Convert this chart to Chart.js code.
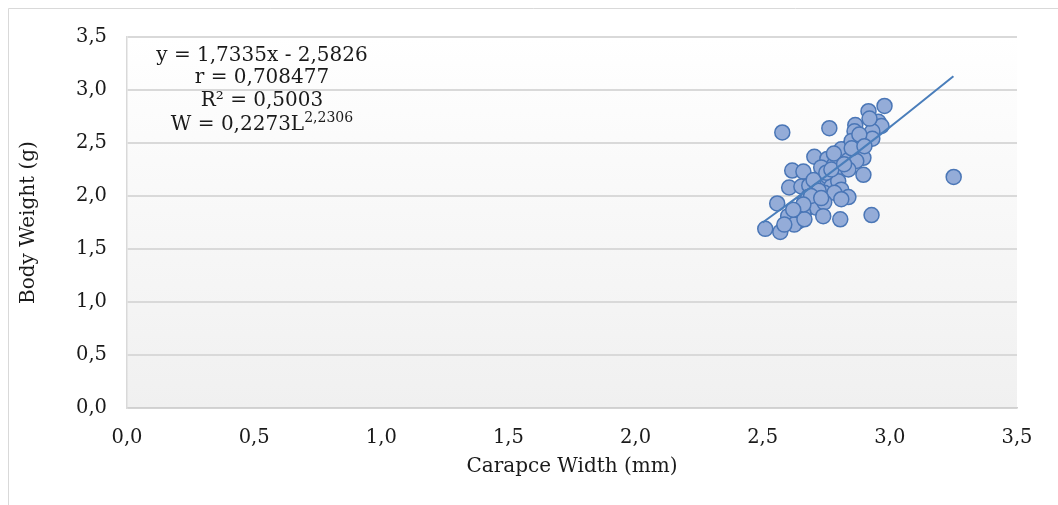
<!DOCTYPE html>
<html><head><meta charset="utf-8">
<script src="https://cdn.jsdelivr.net/npm/chart.js@4.4.1/dist/chart.umd.min.js"></script>
<style>html,body{margin:0;padding:0;background:#fff;}#wrap{width:1058px;height:505px;position:relative}</style>
</head><body><div id="wrap"><canvas id="c" width="1058" height="505"></canvas></div>
<script>
// Scatter data
const carapaceWidth = [2.577,2.762,2.979,2.916,2.864,2.935,2.955,2.967,2.931,2.861,2.896,2.931,2.837,2.809,2.868,2.896,2.703,2.754,2.616,2.660,2.730,2.782,2.809,2.837,2.868,2.896,3.251,2.604,2.652,2.683,2.719,2.758,2.770,2.797,2.809,2.837,2.711,2.742,2.782,2.837,2.809,2.557,2.664,2.679,2.679,2.711,2.742,2.738,2.805,2.928,2.620,2.660,2.600,2.640,2.624,2.664,2.510,2.569,2.585,2.70,2.75,2.78,2.85,2.88,2.92,2.72,2.69,2.77,2.82,2.66,2.62,2.85,2.90,2.73];
const bodyWeight    = [2.60,2.64,2.85,2.80,2.67,2.69,2.70,2.66,2.61,2.61,2.53,2.54,2.46,2.44,2.39,2.36,2.37,2.35,2.24,2.23,2.27,2.30,2.25,2.34,2.33,2.20,2.18,2.08,2.09,2.10,2.11,2.18,2.09,2.14,2.06,2.25,2.01,2.03,2.03,1.99,1.97,1.93,1.95,1.99,1.89,1.89,1.94,1.81,1.78,1.82,1.84,1.84,1.81,1.76,1.73,1.78,1.69,1.66,1.73,2.15,2.22,2.40,2.52,2.58,2.73,2.05,2.00,2.25,2.30,1.92,1.87,2.45,2.47,1.98];
// Trendline as drawn in the picture
const trendX = [2.50, 2.75, 3.00, 3.25];
const trendY = [1.75, 2.19, 2.65, 3.13];
const xTickValues = [0,0.5,1,1.5,2,2.5,3,3.5];
const yTickValues = [0,0.5,1,1.5,2,2.5,3,3.5];
const xTitle = "Carapce Width (mm)";
const yTitle = "Body Weight (g)";
const eqLines = ["y = 1,7335x - 2,5826", "r = 0,708477", "R\u00B2 = 0,5003"];
const powerBase = "W = 0,2273L";
const powerExp = "2,2306";

const FONT = "'DejaVu Serif', serif";
const fmt = v => v.toFixed(1).replace('.', ',');

const bgPlugin = {
  id: 'bg',
  beforeDraw(chart) {
    const {ctx, chartArea: a} = chart;
    ctx.save();
    ctx.fillStyle = '#fff';
    ctx.fillRect(0, 0, chart.width, chart.height);
    ctx.strokeStyle = '#d9d9d9';
    ctx.lineWidth = 1;
    ctx.beginPath();
    ctx.moveTo(8.5, chart.height); ctx.lineTo(8.5, 8.5); ctx.lineTo(chart.width, 8.5);
    ctx.stroke();
    const g = ctx.createLinearGradient(0, a.top, 0, a.bottom);
    g.addColorStop(0, '#ffffff');
    g.addColorStop(1, '#f0f0f0');
    ctx.fillStyle = g;
    ctx.fillRect(a.left, a.top, a.right - a.left, a.bottom - a.top);
    ctx.restore();
  }
};

const textPlugin = {
  id: 'texts',
  afterDraw(chart) {
    const {ctx, chartArea: a} = chart;
    ctx.save();
    ctx.fillStyle = '#1a1a1a';
    ctx.font = "20px " + FONT;
    ctx.textAlign = 'center';
    ctx.textBaseline = 'middle';
    ctx.fillText(xTitle, (a.left + a.right) / 2, 467);
    ctx.save();
    ctx.translate(29, (a.top + a.bottom) / 2);
    ctx.rotate(-Math.PI / 2);
    ctx.fillText(yTitle, 0, 0);
    ctx.restore();
    const cx = 262;
    const ys = [56, 78, 101, 125];
    ctx.font = "20px " + FONT;
    eqLines.forEach((t, i) => ctx.fillText(t, cx, ys[i]));
    ctx.textAlign = 'left';
    const wb = ctx.measureText(powerBase).width;
    ctx.font = "14px " + FONT;
    const we = ctx.measureText(powerExp).width;
    const x0 = cx - (wb + we) / 2;
    ctx.font = "20px " + FONT;
    ctx.fillText(powerBase, x0, ys[3]);
    ctx.font = "14px " + FONT;
    ctx.fillText(powerExp, x0 + wb, ys[3] - 7);
    ctx.restore();
  }
};

new Chart(document.getElementById('c'), {
  type: 'scatter',
  data: {
    datasets: [
      {
        type: 'line',
        data: trendX.map((x, i) => ({x, y: trendY[i]})),
        borderColor: '#4a7ebb',
        borderWidth: 2,
        pointRadius: 0,
        fill: false,
        cubicInterpolationMode: 'monotone',
        order: 0
      },
      {
        data: carapaceWidth.map((x, i) => ({x, y: bodyWeight[i]})),
        backgroundColor: '#94acd8',
        borderColor: '#4a76b6',
        borderWidth: 1.5,
        pointRadius: 7.5,
        pointHoverRadius: 7.5,
        order: 1
      }
    ]
  },
  options: {
    responsive: false,
    animation: false,
    devicePixelRatio: 1,
    layout: {padding: {left: 0, top: 37, right: 41, bottom: 0}},
    plugins: {legend: {display: false}, tooltip: {enabled: false}},
    scales: {
      x: {
        type: 'linear', min: 0, max: 3.5,
        afterBuildTicks: s => { s.ticks = xTickValues.map(v => ({value: v})); },
        afterFit: s => { s.height = 97; },
        grid: {display: false, drawTicks: false},
        border: {display: true, color: '#d0d0d0', width: 1.5},
        ticks: {color: '#1a1a1a', font: {family: FONT, size: 19.5}, padding: 18, callback: v => fmt(v), maxRotation: 0}
      },
      y: {
        type: 'linear', min: 0, max: 3.5,
        afterBuildTicks: s => { s.ticks = yTickValues.map(v => ({value: v})); },
        afterFit: s => { s.width = 127; },
        grid: {color: '#d9d9d9', lineWidth: 2, drawTicks: false},
        border: {display: true, color: '#d9d9d9', width: 1.5},
        ticks: {color: '#1a1a1a', font: {family: FONT, size: 19.5}, padding: 20, callback: v => fmt(v)}
      }
    }
  },
  plugins: [bgPlugin, textPlugin]
});
</script></body></html>
